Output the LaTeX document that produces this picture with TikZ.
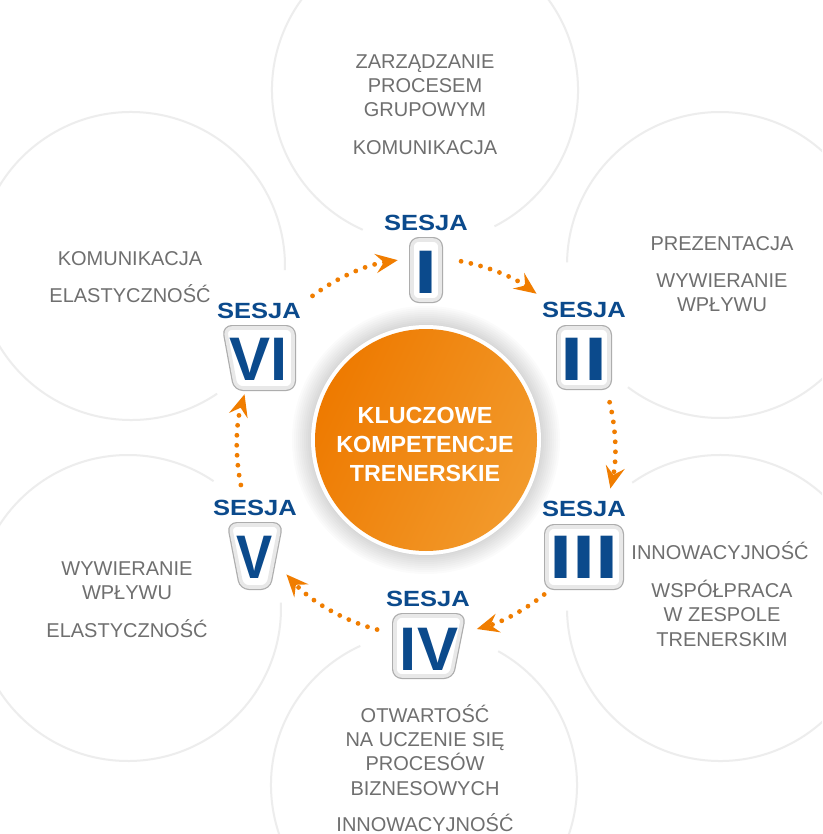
\documentclass[tikz,border=0pt]{standalone}
\usepackage{fontspec}
\setmainfont{Liberation Sans}
\usetikzlibrary{arrows.meta,shadows}
\definecolor{sesblue}{HTML}{0B4A8C}
\definecolor{lblgray}{HTML}{6F6F6F}
\definecolor{ringgray}{HTML}{EDEDED}
\definecolor{arrorange}{HTML}{F07D00}
\definecolor{orDark}{HTML}{EE7A00}
\definecolor{orLight}{HTML}{F7B24F}
\definecolor{orMid}{HTML}{F29A2C}
\begin{document}
\begin{tikzpicture}[x=1pt,y=-1pt,
  ring/.style={draw=ringgray, line width=2pt},
  lbl/.style={anchor=base, text=lblgray, font=\fontsize{20}{24}\selectfont, inner sep=0pt},
  ses/.style={anchor=base, text=sesblue, font=\bfseries\fontsize{22}{26}\selectfont, inner sep=0pt},
  num/.style={anchor=base, text=sesblue, font=\bfseries\fontsize{61.5}{62}\selectfont, inner sep=0pt},
  ctr/.style={anchor=base, text=white, font=\bfseries\fontsize{23.3}{28}\selectfont, inner sep=0pt},
  numframe/.style={drop shadow={shadow xshift=0pt, shadow yshift=-2pt, opacity=0.12, fill=black},
     preaction={draw=black!32, line width=6pt},
     fill=white, draw=black!9, line width=3.6pt, rounded corners=7pt, line join=round},
  flow/.style={draw=arrorange, line width=4.8pt, line cap=round, dash pattern=on 0pt off 10pt,
     -{Stealth[length=22pt,width=19pt,inset=8pt]}},
]
\useasboundingbox (0,0) rectangle (822,834);
\fill[white] (0,0) rectangle (822,834);
\clip (0,0) rectangle (822,834);

% faint rings
\coordinate (rT) at (425,90);
\coordinate (rRT) at (720,265);
\coordinate (rRB) at (720,608);
\coordinate (rB) at (424,785);
\coordinate (rLB) at (128,608);
\coordinate (rLT) at (131,266);
\draw[ring] (rT) ++(114:153) arc[start angle=114, end angle=423, radius=153];
\draw[ring] (rRT) ++(181:153) arc[start angle=181, end angle=487, radius=153];
\draw[ring] (rRB) ++(235:153) arc[start angle=235, end angle=539, radius=153];
\draw[ring] (rB) ++(299:153) arc[start angle=299, end angle=605.4, radius=153];
\draw[ring] (rLB) ++(-2:153) arc[start angle=-2, end angle=304, radius=153];
\draw[ring] (rLT) ++(56:154) arc[start angle=56, end angle=361.5, radius=154];

% central circle
\coordinate (cc) at (426,440);
\foreach \k in {1,...,10} \fill[black, opacity=0.014] (cc) circle[radius=114+2*\k];
\fill[white] (cc) circle[radius=115];
\shade[top color=orDark, middle color=orLight, bottom color=orMid, shading angle=65] (cc) circle[radius=111];
\node[ctr] (k1) at (425,423) {KLUCZOWE};
\node[ctr] (k2) at (425,452) {KOMPETENCJE};
\node[ctr] (k3) at (425,481) {TRENERSKIE};

% numeral frames
\path[numframe] (412,240) rectangle (440,300);
\path[numframe] (559,328) rectangle (609,387);
\path[numframe] (547,527) rectangle (621,587);
\path[numframe] (395,616) -- (463,616) -- (451,676) -- (395,676) -- cycle;
\path[numframe] (230,525) -- (280,525) -- (268,587) -- (242,587) -- cycle;
\path[numframe] (225,328) -- (293,328) -- (293,388) -- (236,388) -- cycle;

% numerals
\node[num] (n1) at (426,293) {\scalebox{1.35}[1]{I}};
\node[num] (n2) at (584,380) {\scalebox{1.35}[1]{II}};
\node[num] (n3) at (584,578) {\scalebox{1.35}[1]{III}};
\node[num] (n4) at (429,670) {IV};
\node[num] (n5) at (255,578) {\scalebox{0.88}[1]{V}};
\node[num] (n6) at (259,380) {VI};

% SESJA labels
\node[ses] (s1) at (426,230.5) {\scalebox{1.16}[1]{SESJA}};
\node[ses] (s2) at (584,317) {\scalebox{1.16}[1]{SESJA}};
\node[ses] (s3) at (584,516) {\scalebox{1.16}[1]{SESJA}};
\node[ses] (s4) at (428,606) {\scalebox{1.16}[1]{SESJA}};
\node[ses] (s5) at (255,515) {\scalebox{1.16}[1]{SESJA}};
\node[ses] (s6) at (259,318) {\scalebox{1.16}[1]{SESJA}};

% flow arrows
\coordinate (ac) at (426,447);
\coordinate (f1) at ([shift={(-126.9:189)}]ac);
\coordinate (f2) at ([shift={(-79.3:189)}]ac);
\coordinate (f3) at ([shift={(-13.7:189)}]ac);
\coordinate (f4) at ([shift={(51.3:189)}]ac);
\coordinate (f5) at ([shift={(105:189)}]ac);
\coordinate (f6) at ([shift={(168.4:189)}]ac);
\draw[flow] (f1) arc[start angle=-126.9, end angle=-98.6, radius=189];
\draw[flow] (f2) arc[start angle=-79.3, end angle=-54.2, radius=189];
\draw[flow] (f3) arc[start angle=-13.7, end angle=12.7, radius=189];
\draw[flow] (f4) arc[start angle=51.3, end angle=74.4, radius=189];
\draw[flow] (f5) arc[start angle=105, end angle=137.6, radius=189];
\draw[flow] (f6) arc[start angle=168.4, end angle=196.2, radius=189];

% competence labels
\node[lbl] (t1) at (425,69) {ZARZĄDZANIE};
\node[lbl] (t2) at (425,93) {PROCESEM};
\node[lbl] (t3) at (425,117) {GRUPOWYM};
\node[lbl] (t4) at (425,155) {KOMUNIKACJA};

\node[lbl] (rt1) at (722,250) {PREZENTACJA};
\node[lbl] (rt2) at (722,287) {WYWIERANIE};
\node[lbl] (rt3) at (722,311) {WPŁYWU};

\node[lbl] (rb1) at (720,559) {INNOWACYJNOŚĆ};
\node[lbl] (rb2) at (722,597) {WSPÓŁPRACA};
\node[lbl] (rb3) at (722,621) {W ZESPOLE};
\node[lbl] (rb4) at (722,646) {TRENERSKIM};

\node[lbl] (b1) at (425,722) {OTWARTOŚĆ};
\node[lbl] (b2) at (425,746) {NA UCZENIE SIĘ};
\node[lbl] (b3) at (425,770) {PROCESÓW};
\node[lbl] (b4) at (425,795) {BIZNESOWYCH};
\node[lbl] (b5) at (425,831) {INNOWACYJNOŚĆ};

\node[lbl] (lb1) at (127,575) {WYWIERANIE};
\node[lbl] (lb2) at (127,599) {WPŁYWU};
\node[lbl] (lb3) at (127,637) {ELASTYCZNOŚĆ};

\node[lbl] (lt1) at (130,265) {KOMUNIKACJA};
\node[lbl] (lt2) at (130,302) {ELASTYCZNOŚĆ};
\end{tikzpicture}
\end{document}
